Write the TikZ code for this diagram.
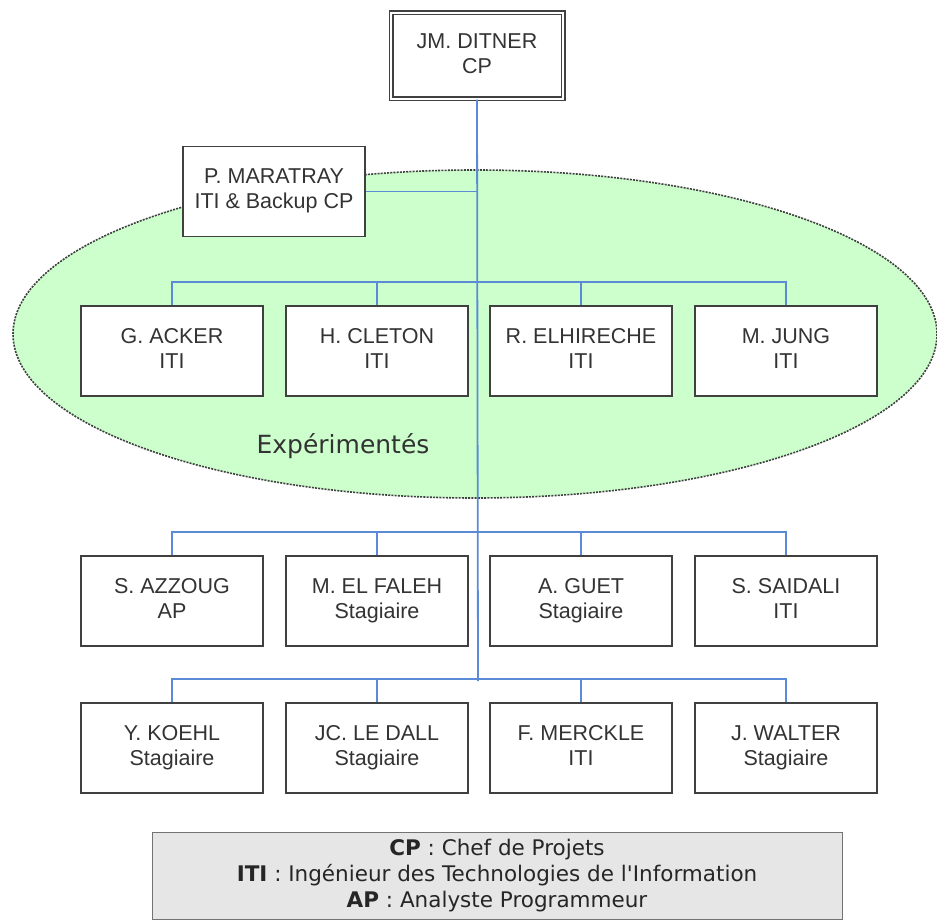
\documentclass[tikz,border=0pt]{standalone}
\usepackage{fontspec}
\setmainfont{Liberation Sans}
\newfontfamily\legendfont{DejaVu Sans}
\definecolor{linkblue}{HTML}{5B8BD6}
\definecolor{groupgreen}{HTML}{CCFFCC}
\definecolor{textgray}{HTML}{333333}
\definecolor{legendgray}{HTML}{E6E6E6}
\newcommand{\who}[2]{#1\strut\\#2\strut}
\begin{document}
\begin{tikzpicture}[x=1pt,y=-1pt,
  person/.style={draw=black!75, line width=1.8pt, fill=white,
    minimum width=182pt, minimum height=90pt, inner sep=0pt,
    align=center, text=textgray, font=\fontsize{21.5}{25}\selectfont},
  link/.style={draw=linkblue, line width=1.8pt}]

\useasboundingbox (0,0) rectangle (937,920);

\draw[fill=groupgreen, draw=black!75, line width=1.6pt, dash pattern=on 2pt off 1.2pt]
(475,334) ellipse [x radius=462, y radius=164];
\node(exp) at(343,446) [text=textgray, font=\legendfont\fontsize{25}{30}\selectfont] {Expérimentés};

\node(cp) at(477,56) [person, double, double distance=2pt, line width=1.5pt,
  minimum width=172pt, minimum height=86pt] {\who{JM. DITNER}{CP}};
\node(maratray) at(274,191.5) [person] {\who{P. MARATRAY}{ITI \& Backup CP}};

\begin{scope}[every node/.style={person}]
\node(acker) at(172,351) {\who{G. ACKER}{ITI}};
\node(cleton) at(377,351) {\who{H. CLETON}{ITI}};
\node(elhireche) at(581,351) {\who{R. ELHIRECHE}{ITI}};
\node(jung) at(786,351) {\who{M. JUNG}{ITI}};

\node(azzoug) at(172,601) {\who{S. AZZOUG}{AP}};
\node(elfaleh) at(377,601) {\who{M. EL FALEH}{Stagiaire}};
\node(guet) at(581,601) {\who{A. GUET}{Stagiaire}};
\node(saidali) at(786,601) {\who{S. SAIDALI}{ITI}};

\node(koehl) at(172,748) {\who{Y. KOEHL}{Stagiaire}};
\node(ledall) at(377,748) {\who{JC. LE DALL}{Stagiaire}};
\node(merckle) at(581,748) {\who{F. MERCKLE}{ITI}};
\node(walter) at(786,748) {\who{J. WALTER}{Stagiaire}};
\end{scope}

\coordinate(trunk) at(478,681);

\draw[link]
(cp.south) -- (trunk)
;
\draw[link]
(maratray.east) -- (maratray.east -| trunk)
;

\foreach \first/\second/\third/\last in
  {acker/cleton/elhireche/jung, azzoug/elfaleh/guet/saidali, koehl/ledall/merckle/walter}
{
\draw[link]
(\first.north) -- ++(0,-23) -| (\last.north)
;
\draw[link] (\second.north) -- ++(0,-23);
\draw[link] (\third.north) -- ++(0,-23);
}

\node(legend) at(497,876) [draw=black!55, line width=1pt, fill=legendgray,
  minimum width=690pt, minimum height=87pt, align=center, text=black!85,
  font=\legendfont\fontsize{21.5}{26}\selectfont]
  {\textbf{CP} : Chef de Projets\\
   \textbf{ITI} : Ingénieur des Technologies de l\textquotesingle Information\\
   \textbf{AP} : Analyste Programmeur};

\end{tikzpicture}
\end{document}
